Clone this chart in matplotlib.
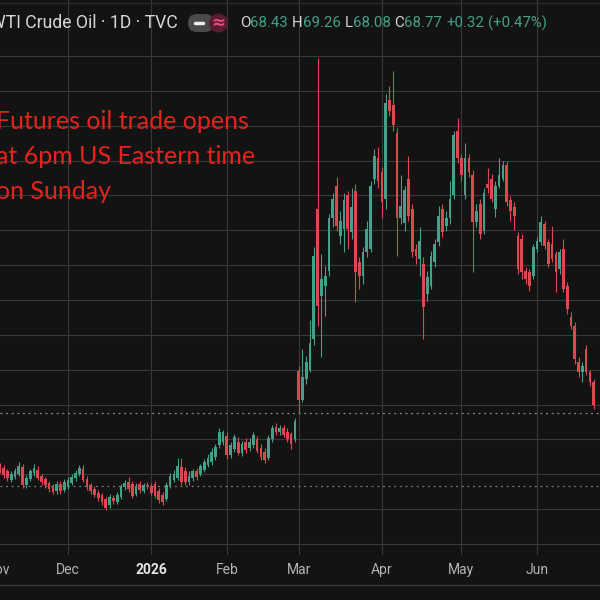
import matplotlib
matplotlib.use("Agg")
import matplotlib.pyplot as plt
import matplotlib.transforms as mtransforms
from matplotlib.patches import FancyBboxPatch, Circle
from matplotlib.lines import Line2D
import numpy as np
import pandas as pd

# trading calendar (exchange holidays skipped, like the daily chart does)
holidays = ["2025-11-27", "2025-12-25", "2026-01-01", "2026-01-19",
            "2026-02-16", "2026-04-03", "2026-05-25", "2026-06-19"]
days = pd.bdate_range("2025-11-03", "2026-06-23", freq="C", holidays=holidays)

month_labels = ["Nov", "Dec", "2026", "Feb", "Mar", "Apr", "May", "Jun"]

# daily OHLC (one row per month)
opens = [
    61.6, 61.2, 60.9, 60.5, 59.2, 59.6, 60.1, 61.0, 58.5, 59.3, 60.2, 60.6, 59.7, 59.3, 58.7, 58.2, 57.6, 58.6, 57.8,
    58.2, 58.7, 59.5, 60.0, 60.8, 59.3, 58.4, 57.9, 57.3, 57.0, 56.4, 55.6, 56.6, 56.0, 56.8, 58.2, 58.9, 58.6, 57.2, 58.6, 57.6, 58.5,
    58.3, 58.6, 57.6, 57.0, 56.4, 58.3, 59.2, 59.5, 61.0, 60.5, 58.9, 59.4, 60.5, 60.0, 60.6, 61.4, 61.8, 62.5, 64.2, 64.7,
    65.5, 62.8, 63.6, 64.7, 63.0, 64.6, 63.8, 64.2, 65.0, 63.8, 63.2, 62.3, 65.0, 66.8, 66.0, 66.7, 66.1, 65.8, 65.0,
    74.8, 70.7, 73.6, 75.0, 79.4, 98.1, 85.6, 87.0, 89.2, 96.7, 101.3, 94.2, 95.2, 100.0, 94.8, 100.7, 90.5, 88.4, 91.9, 92.3, 102.4, 105.3,
    103.4, 99.5, 113.7, 112.9, 108.9, 96.7, 96.0, 102.4, 98.1, 92.3, 90.9, 90.2, 85.9, 87.0, 90.5, 93.3, 98.1, 95.6, 96.7, 100.0, 109.3,
    105.3, 100.0, 105.3, 102.9, 96.2, 98.8, 94.9, 101.7, 102.4, 98.1, 101.4, 102.4, 104.3, 99.3, 98.4, 94.2, 93.8, 89.2, 89.0, 88.4,
    92.3, 93.3, 95.9, 93.3, 93.1, 91.6, 89.5, 92.3, 87.0, 82.5, 81.2, 76.1, 74.6, 77.9, 74.6, 73.2,
]
highs = [
    62.0, 61.6, 61.3, 60.8, 60.4, 60.9, 61.8, 61.5, 59.9, 60.8, 61.5, 61.2, 60.0, 59.6, 59.1, 58.6, 59.0, 59.0, 59.3,
    59.6, 60.0, 60.6, 61.4, 61.3, 59.7, 58.8, 58.3, 57.8, 57.3, 56.8, 57.2, 57.0, 57.4, 58.6, 59.2, 59.6, 59.0, 58.7, 59.0, 58.8, 58.9,
    58.8, 59.0, 58.0, 57.4, 58.9, 60.2, 60.6, 62.3, 62.3, 61.0, 60.4, 60.8, 60.9, 61.5, 62.2, 62.9, 63.7, 64.3, 66.7, 66.4,
    66.0, 64.6, 65.8, 65.3, 64.8, 65.2, 65.2, 66.1, 65.5, 64.4, 63.8, 65.6, 67.0, 67.4, 67.1, 67.0, 66.6, 66.1, 68.0,
    75.6, 77.9, 77.0, 82.2, 92.6, 119.7, 91.6, 89.9, 97.4, 100.3, 102.7, 97.8, 100.3, 100.7, 101.0, 101.7, 91.2, 92.6, 96.4, 102.1, 106.7, 107.0,
    104.1, 114.5, 115.7, 117.8, 109.6, 102.9, 101.3, 105.7, 98.8, 93.1, 95.5, 91.2, 89.2, 92.0, 93.8, 98.5, 98.8, 97.8, 102.0, 109.3, 111.1,
    106.0, 107.5, 106.0, 103.6, 98.8, 99.5, 101.0, 103.9, 103.1, 102.1, 105.3, 105.0, 104.9, 99.9, 99.1, 94.8, 94.4, 89.7, 89.5, 93.1,
    94.1, 97.1, 96.4, 93.8, 95.6, 92.0, 92.3, 93.8, 87.6, 83.3, 81.8, 76.8, 76.1, 78.5, 75.0, 73.6,
]
lows = [
    60.9, 60.2, 59.5, 59.0, 58.9, 59.3, 59.7, 58.0, 58.0, 59.0, 59.8, 59.2, 58.5, 58.1, 57.5, 57.1, 57.2, 57.2, 57.5,
    57.9, 58.4, 59.1, 59.7, 58.9, 57.8, 57.2, 56.7, 56.2, 55.6, 54.9, 55.2, 55.8, 55.7, 56.5, 57.8, 57.5, 56.6, 56.9, 57.3, 57.3, 57.9,
    57.0, 56.6, 55.9, 55.6, 56.1, 58.0, 58.9, 59.2, 58.5, 58.4, 58.5, 59.0, 59.2, 59.8, 60.3, 61.0, 61.4, 62.1, 63.8, 64.2,
    62.2, 62.4, 63.2, 62.7, 62.6, 63.1, 63.4, 63.8, 63.0, 62.1, 61.6, 62.0, 64.7, 65.6, 65.6, 65.3, 64.6, 63.6, 64.6,
    68.8, 70.3, 72.9, 74.6, 78.6, 81.2, 76.8, 82.7, 88.4, 95.5, 94.9, 93.1, 91.9, 92.3, 93.8, 84.7, 86.6, 87.3, 91.2, 91.9, 101.7, 101.0,
    96.7, 98.1, 111.4, 109.2, 91.3, 95.9, 94.9, 96.4, 91.2, 90.2, 88.4, 79.4, 84.8, 86.6, 89.7, 92.8, 94.1, 94.9, 95.9, 99.5, 104.6,
    102.1, 99.5, 102.7, 89.0, 95.5, 93.8, 94.4, 100.3, 99.0, 96.9, 101.0, 102.0, 98.5, 96.4, 95.0, 88.7, 88.0, 87.3, 86.3, 88.0,
    91.9, 92.9, 92.3, 89.7, 90.5, 86.1, 88.7, 86.1, 83.0, 80.8, 75.8, 74.0, 73.2, 74.2, 72.6, 69.3,
]
closes = [
    61.2, 60.5, 59.9, 59.4, 60.0, 60.4, 61.2, 58.5, 59.5, 60.4, 60.9, 59.5, 58.9, 58.5, 57.9, 57.5, 58.6, 57.6, 58.9,
    59.2, 59.6, 60.2, 60.9, 59.2, 58.2, 57.6, 57.0, 56.6, 56.0, 55.2, 56.7, 56.1, 57.0, 58.3, 58.8, 57.9, 56.9, 58.3, 57.7, 58.4, 58.3,
    57.3, 56.9, 56.3, 56.0, 58.5, 59.8, 60.1, 61.2, 58.9, 58.9, 59.8, 60.4, 59.6, 61.2, 61.8, 62.4, 63.2, 63.9, 66.1, 66.0,
    62.8, 64.2, 65.3, 63.1, 64.3, 63.5, 64.6, 65.7, 63.3, 62.5, 62.1, 65.2, 66.6, 66.1, 66.7, 65.7, 65.1, 64.4, 67.6,
    70.7, 73.9, 76.1, 78.9, 91.3, 84.1, 88.0, 88.4, 96.7, 99.5, 95.6, 96.4, 99.3, 95.2, 98.4, 89.0, 88.4, 91.9, 95.2, 101.4, 105.6, 102.0,
    99.1, 113.2, 112.1, 110.1, 96.7, 98.5, 100.8, 97.1, 91.9, 91.3, 93.5, 84.0, 88.3, 91.3, 93.1, 97.1, 94.8, 96.7, 99.5, 108.6, 105.3,
    102.9, 105.3, 103.4, 96.2, 97.8, 94.5, 100.3, 101.0, 99.5, 101.4, 102.9, 104.3, 99.1, 97.8, 97.0, 89.5, 89.0, 88.0, 87.0, 92.6,
    93.5, 96.2, 92.8, 90.2, 90.9, 89.0, 91.9, 86.6, 83.7, 81.2, 76.5, 74.6, 75.5, 74.6, 73.2, 69.9,
]

last_price = 68.77
ref_price = 58.3
legend_parts = [("O", 0), ("68.43", 0), ("H", 4), ("69.26", 0), ("L", 4), ("68.08", 0),
                ("C", 4), ("68.77", 0), ("+0.32", 4), ("(+0.47%)", 4)]

BG = "#131313"
GRID = "#383838"
UP = "#44a088"
DOWN = "#de4650"
TXT = "#d6d6d6"

o = np.array(opens); h = np.array(highs); l = np.array(lows); c = np.array(closes)
x = np.arange(len(days))

fig = plt.figure(figsize=(6, 6), dpi=100, facecolor=BG)
ax = fig.add_axes([0, 45 / 600, 1, 555 / 600])
ax.set_facecolor(BG)

# month starts
month_idx = [i for i in range(len(days)) if i == 0 or days[i].month != days[i - 1].month]

ax.set_xticks(month_idx)
ax.set_yticks(np.arange(50, 121, 5))
ax.grid(True, color=GRID, lw=0.8)
ax.tick_params(length=0, labelbottom=False, labelleft=False)
for s in ax.spines.values():
    s.set_visible(False)

cols = np.where(c >= o, UP, DOWN)
ax.vlines(x, l, h, colors=cols, lw=0.8, zorder=3)
ax.bar(x, np.maximum(np.abs(c - o), 0.15), bottom=np.minimum(o, c), width=0.72,
       color=cols, lw=0, zorder=3)

ax.axhline(last_price, color="#8c8c8c", lw=0.9, ls=(0, (1.5, 3)), zorder=4)
ax.axhline(ref_price, color="#7a7a7a", lw=0.9, ls=(0, (1.5, 3)), zorder=4)

ax.set_xlim(1.02, 159.67)
ax.set_ylim(48.42, 128.03)

trans = mtransforms.blended_transform_factory(ax.transData, ax.transAxes)
for idx, lab in zip(month_idx, month_labels):
    bold = lab == "2026"
    ax.text(idx + (0.4 if idx == 0 else 0), -15 / 555, lab, transform=trans, ha="center", va="center",
            fontsize=10, color="#e6e6e6" if bold else "#b4b4b4",
            fontweight="bold" if bold else "normal", family="Roboto", clip_on=False)

# lines at top and under the time scale
fig.add_artist(Line2D([0, 1], [1 - 3 / 600] * 2, color="#2a2a2a", lw=1))
fig.add_artist(Line2D([0, 1], [1 - 585 / 600] * 2, color="#3c3c3c", lw=1))

# red note
for k, line in enumerate(["Futures oil trade opens", "at 6pm US Eastern time", "on Sunday"]):
    fig.text(-4 / 600, 1 - (129 + 35 * k) / 600, line, ha="left", va="baseline",
             fontsize=18, color="#e3231d", family="Lato")

# legend row
ty = 1 - 23 / 600
fig.text(178 / 600, ty, "WTI Crude Oil · 1D · TVC", ha="right", va="center",
         fontsize=12.7, color=TXT, family="Roboto")
fig.add_artist(FancyBboxPatch((188 / 600, 1 - 32 / 600), 26 / 600, 18 / 600,
                              boxstyle="round,pad=0,rounding_size=0.015",
                              transform=fig.transFigure, color="#4a4a4a", lw=0))
fig.add_artist(Line2D([195 / 600, 203 / 600], [ty, ty], color="#eeeeee", lw=2.5,
                      solid_capstyle="round"))
fig.add_artist(Circle((218.5 / 600, ty), 9.5 / 600, transform=fig.transFigure,
                      color="#5a1c33", lw=0))
fig.text(218.5 / 600, ty, "≈", ha="center", va="center", fontsize=12,
         color="#ea4a7c", fontweight="bold", family="DejaVu Sans")

renderer = fig.canvas.get_renderer()
xpos = 240
for s, gap in legend_parts:
    xpos += gap
    col = TXT if s in ("O", "H", "L", "C") else UP
    t = fig.text(xpos / 600, ty, s, ha="left", va="center", fontsize=10.8,
                 color=col, family="Roboto")
    xpos = t.get_window_extent(renderer).x1

fig.savefig("out.png", dpi=100, facecolor=BG)
